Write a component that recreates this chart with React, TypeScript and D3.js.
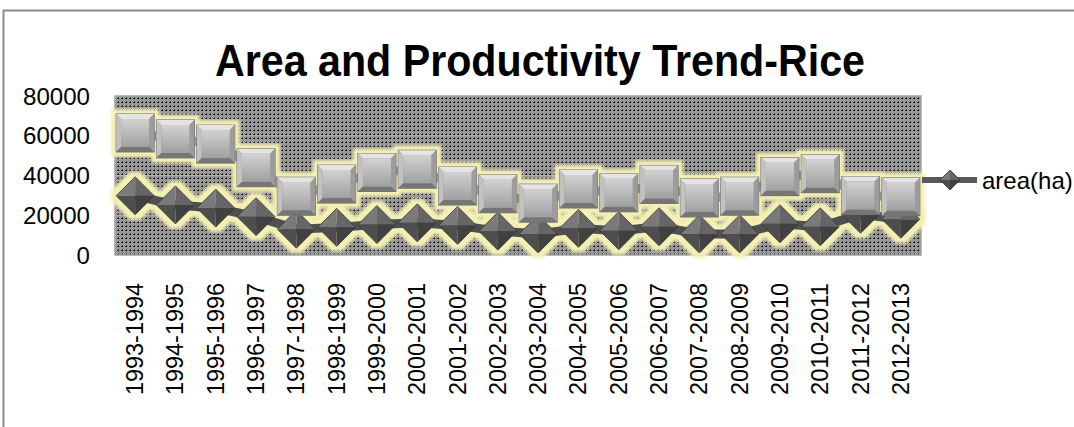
import React from 'react'
import * as d3 from 'd3'

const categories = ['1993-1994', '1994-1995', '1995-1996', '1996-1997', '1997-1998', '1998-1999', '1999-2000', '2000-2001', '2001-2002', '2002-2003', '2003-2004', '2004-2005', '2005-2006', '2006-2007', '2007-2008', '2008-2009', '2009-2010', '2010-2011', '2011-2012', '2012-2013']
// square markers (legend entry not shown in the original)
const production = [61400, 58400, 55800, 43900, 29600, 35700, 41500, 43200, 34700, 30800, 26100, 33200, 31300, 35500, 28700, 29600, 39400, 40900, 29900, 29300]
// diamond markers
const areaHa = [29800, 25200, 23600, 19300, 13000, 13900, 15300, 16200, 14900, 12000, 10600, 13400, 12200, 14200, 10600, 10600, 15700, 14200, 20500, 18000]
const yTicks = [0, 20000, 40000, 60000, 80000]
const legendLabel = 'area(ha)'
const title = 'Area and Productivity Trend-Rice'

const W = 1074, H = 427
const plot = { left: 115, right: 921, top: 96, bottom: 255 }
const font = '"Liberation Sans", Arial, sans-serif'

const Square = ({ x, y }: { x: number, y: number }) => {
  const s = 19, b = 5
  return (
    <g transform={`translate(${x},${y})`}>
      <rect x={-s} y={-s} width={2 * s} height={2 * s} fill="#8e8e8e" stroke="#6e6e6e" strokeWidth={1} />
      <polygon points={`${-s},${-s} ${s},${-s} ${s - b},${-s + b} ${-s + b},${-s + b}`} fill="#e4e4e4" />
      <polygon points={`${-s},${-s} ${-s + b},${-s + b} ${-s + b},${s - b} ${-s},${s}`} fill="#c2c2c2" />
      <polygon points={`${s},${-s} ${s},${s} ${s - b},${s - b} ${s - b},${-s + b}`} fill="#9c9c9c" />
      <polygon points={`${-s},${s} ${s},${s} ${s - b},${s - b} ${-s + b},${s - b}`} fill="#767676" />
      <rect x={-s + b} y={-s + b} width={2 * (s - b)} height={2 * (s - b)} fill="url(#sqFace)" />
    </g>
  )
}

const Diamond = ({ x, y, r = 19 }: { x: number, y: number, r?: number }) => (
  <g transform={`translate(${x},${y})`}>
    <polygon points={`0,0 ${-r},0 0,${-r}`} fill="#7a7a7a" />
    <polygon points={`0,0 0,${-r} ${r},0`} fill="#666666" />
    <polygon points={`0,0 ${-r},0 0,${r}`} fill="#4e4e4e" />
    <polygon points={`0,0 ${r},0 0,${r}`} fill="#414141" />
    <polygon points={`${-r},0 0,${-r} ${r},0 0,${r}`} fill="none" stroke="#383838" strokeWidth={0.8} />
  </g>
)

export default function App() {
  const x = d3.scaleBand<string>().domain(categories).range([plot.left, plot.right])
  const y = d3.scaleLinear().domain([0, 80000]).range([plot.bottom, plot.top])
  const cx = (c: string) => (x(c) as number) + x.bandwidth() / 2

  const line = d3.line<number>().x((_, i) => cx(categories[i])).y(d => y(d))
  const prodPath = line(production) as string
  const areaPath = line(areaHa) as string

  return (
    <div style={{ position: 'absolute', left: 0, top: 0 }}>
      <svg width={W} height={H} style={{ display: 'block', background: '#fff' }}>
        <defs>
          <pattern id="bgPat" width={4} height={4} patternUnits="userSpaceOnUse">
            <rect width={4} height={4} fill="#858585" />
            <rect x={0} y={0} width={1} height={1} fill="#a9a9a9" />
            <rect x={2} y={0} width={1} height={1} fill="#a9a9a9" />
            <rect x={1} y={1} width={1} height={1} fill="#a9a9a9" />
            <rect x={3} y={1} width={1} height={1} fill="#a9a9a9" />
            <rect x={0} y={2} width={1} height={1} fill="#a9a9a9" />
            <rect x={1} y={3} width={1} height={1} fill="#a9a9a9" />
            <rect x={3} y={3} width={1} height={1} fill="#a9a9a9" />
            <rect x={2} y={2} width={1} height={1} fill="#000" />
            <rect x={1} y={2} width={1} height={1} fill="#2e2e2e" />
            <rect x={2} y={1} width={1} height={1} fill="#4a4a4a" />
          </pattern>
          <linearGradient id="sqFace" x1="0" x2="0" y1="0" y2="1">
            <stop offset="0%" stopColor="#d2d2d2" />
            <stop offset="100%" stopColor="#a0a0a0" />
          </linearGradient>
          <filter id="glow" x="-10%" y="-30%" width="120%" height="160%">
            <feMorphology in="SourceAlpha" operator="dilate" radius={5} result="dil" />
            <feGaussianBlur in="dil" stdDeviation={1.6} result="blur" />
            <feFlood floodColor="#f4efb4" />
            <feComposite in2="blur" operator="in" />
          </filter>
        </defs>

        {/* outer chart border */}
        <rect x={3.5} y={10.5} width={W + 10} height={H + 10} fill="none" stroke="#8c8c8c" strokeWidth={2} />

        <text x={540} y={76} textAnchor="middle" fontFamily={font} fontWeight="bold" fontSize={44}
          textLength={650} lengthAdjust="spacingAndGlyphs" fill="#000">{title}</text>

        {/* plot area */}
        <rect x={plot.left} y={plot.top} width={plot.right - plot.left} height={plot.bottom - plot.top} fill="url(#bgPat)" />
        {yTicks.slice(1, -1).map(t => (
          <line key={t} x1={plot.left} x2={plot.right} y1={y(t)} y2={y(t)} stroke="#b4b4b4" strokeWidth={1} />
        ))}
        <rect x={plot.left} y={plot.top} width={plot.right - plot.left} height={plot.bottom - plot.top}
          fill="none" stroke="#a3a3a3" strokeWidth={1.5} />

        {/* glows */}
        <g filter="url(#glow)">
          <path d={areaPath} fill="none" stroke="#000" strokeWidth={9} />
          {areaHa.map((v, i) => <Diamond key={i} x={cx(categories[i])} y={y(v)} />)}
        </g>
        <g filter="url(#glow)">
          <path d={prodPath} fill="none" stroke="#000" strokeWidth={9} />
          {production.map((v, i) => <rect key={i} x={cx(categories[i]) - 19} y={y(v) - 19} width={38} height={38} />)}
        </g>

        {/* area(ha) series */}
        <path d={areaPath} fill="none" stroke="#505050" strokeWidth={9} strokeLinejoin="round" />
        {areaHa.map((v, i) => <Diamond key={i} x={cx(categories[i])} y={y(v)} />)}

        {/* square series */}
        <path d={prodPath} fill="none" stroke="#959595" strokeWidth={9} strokeLinejoin="round" />
        {production.map((v, i) => <Square key={i} x={cx(categories[i])} y={y(v)} />)}

        {/* y axis labels */}
        {yTicks.map(t => (
          <text key={t} x={90} y={y(t)} textAnchor="end" dominantBaseline="central"
            fontFamily={font} fontSize={24} textLength={String(t).length * 13.4} lengthAdjust="spacingAndGlyphs" fill="#000">{t}</text>
        ))}

        {/* x axis labels */}
        {categories.map(c => (
          <text key={c} transform={`translate(${cx(c)},283) rotate(-90)`} textAnchor="end" dominantBaseline="central"
            fontFamily={font} fontSize={23} textLength={112} lengthAdjust="spacingAndGlyphs" fill="#000">{c}</text>
        ))}

        {/* legend */}
        <line x1={922} x2={977} y1={180} y2={180} stroke="#595959" strokeWidth={6} />
        <Diamond x={950} y={180} r={10} />
        <text x={982} y={180} dominantBaseline="central" fontFamily={font} fontSize={24} fill="#000">{legendLabel}</text>
      </svg>
    </div>
  )
}
